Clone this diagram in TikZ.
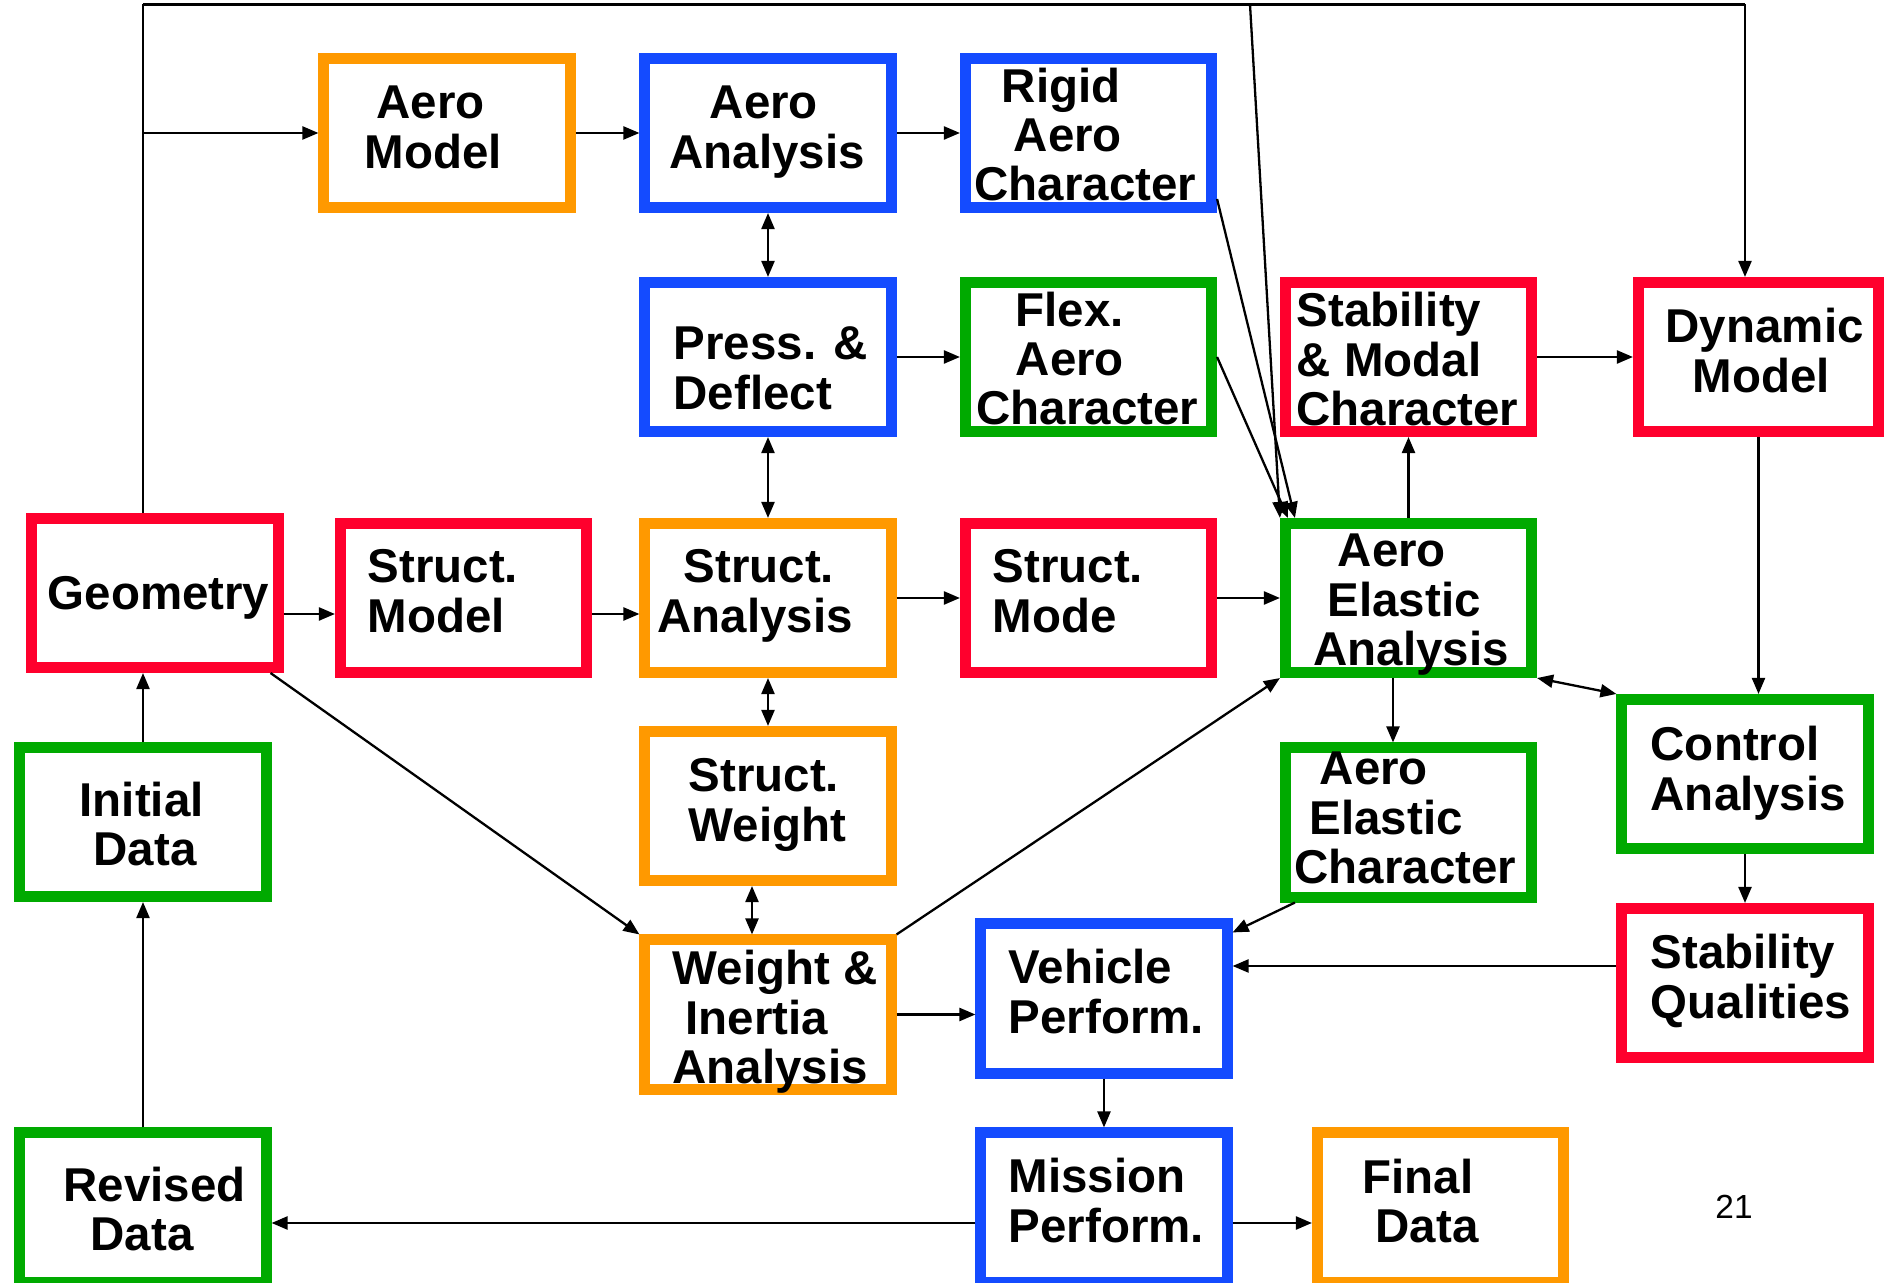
\documentclass[tikz,border=0pt]{standalone}
\usepackage{fontspec}
\setmainfont{Liberation Sans}
\usetikzlibrary{arrows.meta,calc}
\definecolor{cOr}{RGB}{255,153,0}
\definecolor{cBl}{RGB}{20,75,255}
\definecolor{cRd}{RGB}{255,0,45}
\definecolor{cGr}{RGB}{0,170,0}
\newcommand\mlines[1]{\begin{tabular}[t]{@{}l@{}}#1\end{tabular}}
\tikzset{
 bx/.style={draw=#1, line width=0.11cm, minimum width=2.46cm, minimum height=1.49cm, inner sep=0pt},
 lbl/.style={anchor=base west, inner sep=0pt, font=\fontsize{13.5}{13.9}\selectfont\bfseries},
 conn/.style={line width=0.023cm},
 arr/.style={conn, -{Triangle[length=0.16cm,width=0.13cm]}},
 darr/.style={conn, {Triangle[length=0.16cm,width=0.13cm]}-{Triangle[length=0.16cm,width=0.13cm]}},
}
\begin{document}
\begin{tikzpicture}[x=0.01cm,y=-0.01cm]
\path[use as bounding box] (0,0) rectangle (1884,1283);
\clip (0,0) rectangle (1884,1283);
% boxes
\node[bx=cOr] (aeromodel) at (447,133) {};
\node[bx=cBl] (aeroanal) at (768,133) {};
\node[bx=cBl] (rigid) at (1088.5,133) {};
\node[bx=cBl] (press) at (768,357) {};
\node[bx=cGr] (flex) at (1088.5,357) {};
\node[bx=cRd] (stabmodal) at (1408.5,357) {};
\node[bx=cRd, minimum width=2.40cm] (dyn) at (1758.5,357) {};
\node[bx=cRd] (geom) at (155,593) {};
\node[bx=cRd] (smodel) at (463.5,598) {};
\node[bx=cOr] (sanal) at (768,598) {};
\node[bx=cRd] (smode) at (1088.5,598) {};
\node[bx=cGr] (ae) at (1408.5,598) {};
\node[bx=cGr] (init) at (143,822) {};
\node[bx=cOr] (sweight) at (768,806) {};
\node[bx=cGr] (aec) at (1408.5,822.5) {};
\node[bx=cGr] (ctrl) at (1745,774) {};
\node[bx=cOr] (wi) at (768,1014.5) {};
\node[bx=cBl] (veh) at (1104,998.5) {};
\node[bx=cRd] (stabq) at (1745,983) {};
\node[bx=cGr] (rev) at (143,1207.5) {};
\node[bx=cBl] (mis) at (1104,1207.5) {};
\node[bx=cOr] (fin) at (1440.5,1207.5) {};
% labels
\node[lbl] (t-aeromodel) at (364,119) {\mlines{\hspace*{0.12cm}Aero\\Model}};
\node[lbl] (t-aeroanal) at (669,119) {\mlines{\hspace*{0.40cm}Aero\\Analysis}};
\node[lbl] (t-rigid) at (974,103) {\mlines{\hspace*{0.27cm}Rigid\\\hspace*{0.39cm}Aero\\Character}};
\node[lbl] (t-press) at (673,360) {\mlines{Press. \&\\Deflect}};
\node[lbl] (t-flex) at (976,327) {\mlines{\hspace*{0.39cm}Flex.\\\hspace*{0.39cm}Aero\\Character}};
\node[lbl] (t-stabmodal) at (1296,327) {\mlines{Stability\\\& Modal\\Character}};
\node[lbl] (t-dyn) at (1665,343) {\mlines{Dynamic\\\hspace*{0.27cm}Model}};
\node[lbl] (t-geom) at (47,610) {\mlines{Geometry}};
\node[lbl] (t-smodel) at (367,583) {\mlines{Struct.\\Model}};
\node[lbl] (t-sanal) at (657,583) {\mlines{\hspace*{0.26cm}Struct.\\Analysis}};
\node[lbl] (t-smode) at (992,583) {\mlines{Struct.\\Mode}};
\node[lbl] (t-ae) at (1313,567) {\mlines{\hspace*{0.24cm}Aero\\\hspace*{0.14cm}Elastic\\Analysis}};
\node[lbl] (t-init) at (79,817) {\mlines{Initial\\\hspace*{0.14cm}Data}};
\node[lbl] (t-sweight) at (688,792) {\mlines{Struct.\\Weight}};
\node[lbl] (t-aec) at (1294,785) {\mlines{\hspace*{0.25cm}Aero\\\hspace*{0.15cm}Elastic\\Character}};
\node[lbl] (t-ctrl) at (1650,761) {\mlines{Control\\Analysis}};
\node[lbl] (t-wi) at (672,985) {\mlines{Weight \&\\\hspace*{0.13cm}Inertia\\Analysis}};
\node[lbl] (t-veh) at (1008,984) {\mlines{Vehicle\\Perform.}};
\node[lbl] (t-stabq) at (1650,969) {\mlines{Stability\\Qualities}};
\node[lbl] (t-rev) at (63,1202) {\mlines{Revised\\\hspace*{0.27cm}Data}};
\node[lbl] (t-mis) at (1008,1193) {\mlines{Mission\\Perform.}};
\node[lbl] (t-fin) at (1362,1194) {\mlines{Final\\\hspace*{0.13cm}Data}};
\node[font=\fontsize{9.5}{11}\selectfont, inner sep=0pt] (pg) at (1734,1207) {21};
% helper coordinates
\coordinate (tl) at (143,4.5);
\coordinate (tr) at (1745,4.5);
\coordinate (tm) at (1250,4.5);
\coordinate (r3) at (0,614);
\coordinate (c752) at (752,0);
\coordinate (c1393) at (1393,0);
\coordinate (r966) at (0,966);
\coordinate (r1223) at (0,1223);
% connectors
\draw[line width=0.03cm] (tl) -- (tr);
\draw[conn] (init.north |- geom.north) -- (tl);
\draw[arr] (tr) -- (tr |- dyn.north);
\draw[arr] (tl |- aeromodel) -- (aeromodel);
\draw[arr] (aeromodel) -- (aeroanal);
\draw[arr] (aeroanal) -- (rigid);
\draw[darr] (aeroanal) -- (press);
\draw[arr] (press) -- (flex);
\draw[darr] (press) -- (sanal);
\draw[arr] (stabmodal) -- (dyn);
\draw[arr] (tm) -- (ae.north west);
\draw[arr] ([yshift=0.14cm]rigid.south east) -- ([xshift=0.15cm]ae.north west);
\draw[arr] (flex.east) -- ([xshift=0.08cm]ae.north west);
\draw[arr] (ae) -- (stabmodal);
\draw[arr] (dyn.south) -- (dyn.south |- ctrl.north);
\draw[arr] (geom.east |- r3) -- (smodel.west |- r3);
\draw[arr] (smodel.east |- r3) -- (sanal.west |- r3);
\draw[arr] (sanal) -- (smode);
\draw[arr] (smode) -- (ae);
\draw[darr] (sanal) -- (sweight);
\draw[darr] (sweight.south -| c752) -- (wi.north -| c752);
\draw[arr] ([xshift=-0.13cm]geom.south east) -- (wi.north west);
\draw[arr] (wi.north east) -- (ae.south west);
\draw[arr] (wi.east) -- (wi.east -| veh.west);
\draw[arr] (ae.south -| c1393) -- (aec.north -| c1393);
\draw[darr] (ae.south east) -- (ctrl.north west);
\draw[arr] (ctrl) -- (stabq);
\draw[arr] ([xshift=0.15cm]aec.south west) -- ([yshift=-0.14cm]veh.north east);
\draw[arr] (stabq.west |- r966) -- (veh.east |- r966);
\draw[arr] (veh) -- (mis);
\draw[arr] (mis.west |- r1223) -- (rev.east |- r1223);
\draw[arr] (mis.east |- r1223) -- (fin.west |- r1223);
\draw[arr] (rev) -- (init);
\draw[arr] (init.north) -- (init.north |- geom.south);
\end{tikzpicture}
\end{document}
